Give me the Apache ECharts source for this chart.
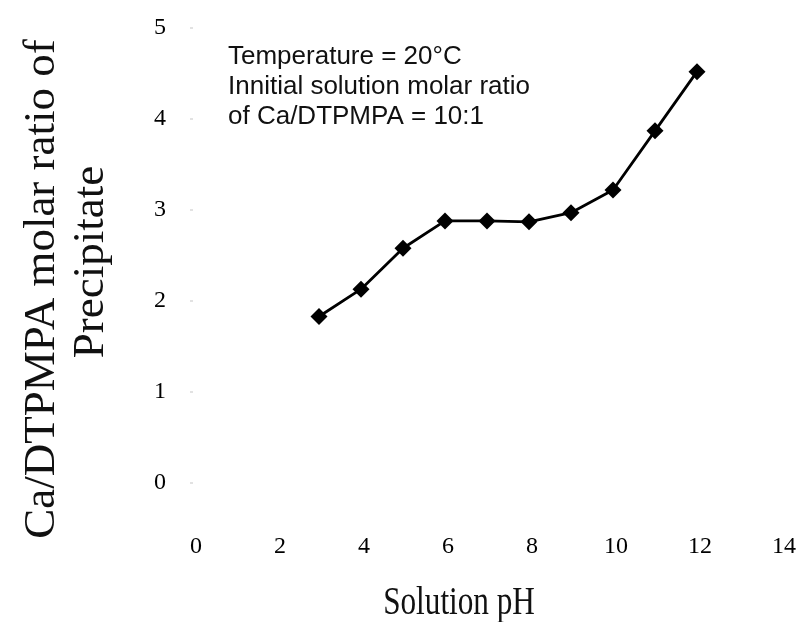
<!DOCTYPE html>
<html><head><meta charset="utf-8">
<script src="https://cdn.jsdelivr.net/npm/echarts@6/dist/echarts.min.js"></script>
<style>html,body{margin:0;padding:0;background:#fff}#c{width:799px;height:622px}</style>
</head><body><div id="c"></div>
<script>
const phValues = [3, 4, 5, 6, 7, 8, 9, 10, 11, 12];
const ratioValues = [1.83, 2.13, 2.58, 2.88, 2.88, 2.87, 2.97, 3.22, 3.87, 4.52];
const xTicks = [0, 2, 4, 6, 8, 10, 12, 14];
const yTicks = [0, 1, 2, 3, 4, 5];
const annotationLines = ['Temperature = 20°C', 'Innitial solution molar ratio', 'of Ca/DTPMPA = 10:1'];
const yTitleLines = ['Ca/DTPMPA molar ratio of', 'Precipitate'];
const xTitle = 'Solution pH';

const serif = '"Liberation Serif", "Times New Roman", serif';
const chart = echarts.init(document.getElementById('c'), null, {renderer: 'canvas'});
const seriesData = phValues.map((x, i) => [x, ratioValues[i]]);

chart.setOption({
  backgroundColor: '#fff',
  animation: false,
  grid: {left: 193, right: 17, top: 28, bottom: 139, containLabel: false},
  xAxis: {
    type: 'value', min: xTicks[0], max: xTicks[xTicks.length - 1], interval: xTicks[1] - xTicks[0],
    axisLine: {show: false}, axisTick: {show: false}, splitLine: {show: false},
    axisLabel: {margin: 52, fontSize: 24, fontFamily: serif, color: '#000', padding: [0, 0, 0, 6]}
  },
  yAxis: {
    type: 'value', min: yTicks[0], max: yTicks[yTicks.length - 1], interval: yTicks[1] - yTicks[0],
    axisLine: {show: false},
    axisTick: {show: true, length: 3, lineStyle: {color: '#e2e2e2', width: 2}},
    splitLine: {show: false},
    axisLabel: {margin: 27, fontSize: 24, fontFamily: serif, color: '#000'}
  },
  series: [{
    type: 'line', data: seriesData, symbol: 'diamond', symbolSize: 17,
    itemStyle: {color: '#000'}, lineStyle: {color: '#000', width: 2.8}
  }],
  graphic: [
    ...annotationLines.map((t, i) => ({
      type: 'text', x: 228, y: 57 + i * 30,
      style: {text: t, font: '26px "Liberation Sans", Arial, sans-serif', fill: '#111', textAlign: 'left', textVerticalAlign: 'middle'}
    })),
    {
      type: 'text', x: 42, y: 289, rotation: Math.PI / 2,
      style: {text: yTitleLines[0], font: '45px ' + serif, fill: '#111', textAlign: 'center', textVerticalAlign: 'middle'}
    },
    {
      type: 'text', x: 91, y: 262, rotation: Math.PI / 2,
      style: {text: yTitleLines[1], font: '45px ' + serif, fill: '#111', textAlign: 'center', textVerticalAlign: 'middle'}
    },
    {
      type: 'text', x: 459, y: 603, scaleX: 0.78,
      style: {text: xTitle, font: '40px ' + serif, fill: '#111', textAlign: 'center', textVerticalAlign: 'middle'}
    }
  ]
});
</script>
</body></html>
